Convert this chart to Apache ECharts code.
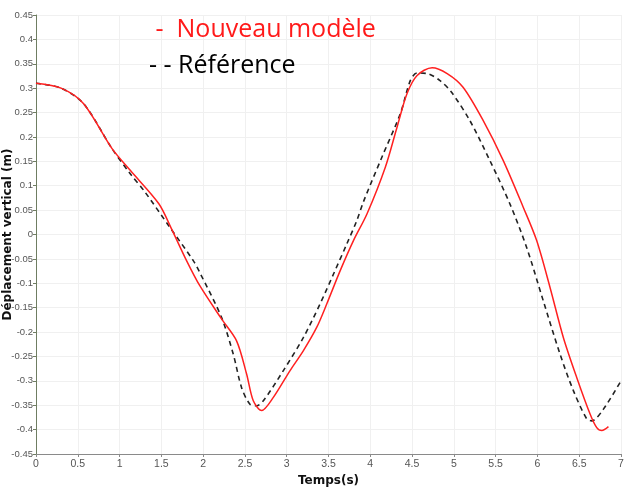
<!DOCTYPE html>
<html>
<head>
<meta charset="utf-8">
<script src="https://cdn.jsdelivr.net/npm/echarts@6/dist/echarts.min.js"></script>
<style>
html,body{margin:0;padding:0;background:#fff;}
#chart{width:630px;height:487px;}
</style>
</head>
<body>
<div id="chart"></div>
<script>
// Nouveau modèle (red solid)
const tNew = [0, 0.30, 0.57, 0.91, 1.13, 1.47, 1.62, 1.80, 1.96, 2.22, 2.40, 2.52, 2.60, 2.70, 2.84, 3.04, 3.20, 3.36, 3.48, 3.64, 3.80, 3.96, 4.18, 4.32, 4.44, 4.56, 4.74, 4.92, 5.11, 5.35, 5.59, 5.83, 5.99, 6.15, 6.31, 6.47, 6.63, 6.71, 6.77, 6.85];
const vNew = [0.310, 0.300, 0.268, 0.176, 0.131, 0.063, 0.012, -0.053, -0.105, -0.173, -0.218, -0.286, -0.341, -0.361, -0.334, -0.279, -0.238, -0.190, -0.142, -0.074, -0.012, 0.042, 0.138, 0.220, 0.289, 0.326, 0.342, 0.330, 0.302, 0.234, 0.152, 0.056, -0.012, -0.108, -0.211, -0.293, -0.368, -0.396, -0.402, -0.394];
// Référence (black dashed)
const tRef = [0, 0.30, 0.57, 0.91, 1.13, 1.30, 1.60, 1.88, 1.96, 2.22, 2.36, 2.46, 2.56, 2.64, 2.72, 2.96, 3.20, 3.40, 3.56, 3.72, 3.84, 3.92, 4.14, 4.36, 4.48, 4.56, 4.68, 4.83, 4.97, 5.19, 5.43, 5.67, 5.87, 6.07, 6.27, 6.43, 6.59, 6.65, 6.79, 7.0];
const vRef = [0.310, 0.300, 0.268, 0.176, 0.124, 0.088, 0.015, -0.053, -0.078, -0.170, -0.245, -0.314, -0.348, -0.351, -0.341, -0.279, -0.211, -0.142, -0.081, -0.019, 0.029, 0.068, 0.159, 0.248, 0.316, 0.331, 0.330, 0.316, 0.292, 0.234, 0.152, 0.063, -0.026, -0.136, -0.245, -0.320, -0.378, -0.382, -0.358, -0.300];

const nameNew = 'Nouveau modèle';
const nameRef = 'Référence';

const tickFont = '"Liberation Sans Narrow", "Liberation Sans", Arial, sans-serif';
const titleFont = '"DejaVu Sans", sans-serif';

const chart = echarts.init(document.getElementById('chart'), null, {renderer: 'canvas'});
chart.setOption({
  animation: false,
  backgroundColor: '#ffffff',
  grid: {left: 36, right: 9, top: 15, bottom: 33, containLabel: false, outerBoundsMode: 'none'},
  legend: {
    orient: 'vertical',
    left: 139, top: 12,
    itemGap: 11,
    icon: 'none',
    itemWidth: 0,
    data: [
      {name: nameNew, textStyle: {color: '#ff1a1a'}},
      {name: nameRef, textStyle: {color: '#000000'}}
    ],
    formatter: function (n) { return n === nameNew ? ' -  ' + n : '- - ' + n; },
    textStyle: {fontFamily: '"Open Sans", "Noto Sans", sans-serif', fontSize: 25, padding: 0}
  },
  xAxis: {
    type: 'value', min: 0, max: 7, interval: 0.5,
    name: 'Temps(s)', nameLocation: 'middle', nameGap: 16,
    nameTextStyle: {fontFamily: titleFont, fontWeight: 'bold', fontSize: 12, color: '#111'},
    axisLine: {onZero: false, lineStyle: {color: '#8a8a8a', width: 1}},
    axisTick: {show: true, length: 3, lineStyle: {color: '#8a8a8a'}},
    axisLabel: {fontFamily: tickFont, fontSize: 10.5, color: '#555', margin: 5},
    splitLine: {show: true, lineStyle: {color: '#f0f0f0', width: 1}}
  },
  yAxis: {
    type: 'value', min: -0.45, max: 0.45, interval: 0.05,
    name: 'Déplacement vertical (m)', nameLocation: 'middle', nameGap: 22, nameMoveOverlap: false,
    nameTextStyle: {fontFamily: titleFont, fontWeight: 'bold', fontSize: 12, color: '#111'},
    axisLine: {onZero: false, lineStyle: {color: '#6f7d62', width: 1}},
    axisTick: {show: true, length: 3, lineStyle: {color: '#6f7d62'}},
    axisLabel: {fontFamily: tickFont, fontSize: 9.5, color: '#555', margin: 3,
      formatter: function (v) { return String(Math.round(v * 100) / 100); }},
    splitLine: {show: true, lineStyle: {color: '#f0f0f0', width: 1}}
  },
  series: [
    {
      name: nameNew, type: 'line', smooth: 0.3, symbol: 'none',
      lineStyle: {color: '#ff2020', width: 1.5},
      itemStyle: {color: '#ff2020'},
      data: tNew.map((t, i) => [t, vNew[i]]),
      z: 3
    },
    {
      name: nameRef, type: 'line', smooth: 0.3, symbol: 'none',
      lineStyle: {color: '#222', width: 1.6, type: [5, 4]},
      itemStyle: {color: '#222'},
      data: tRef.map((t, i) => [t, vRef[i]]),
      z: 2
    }
  ]
});
</script>
</body>
</html>
